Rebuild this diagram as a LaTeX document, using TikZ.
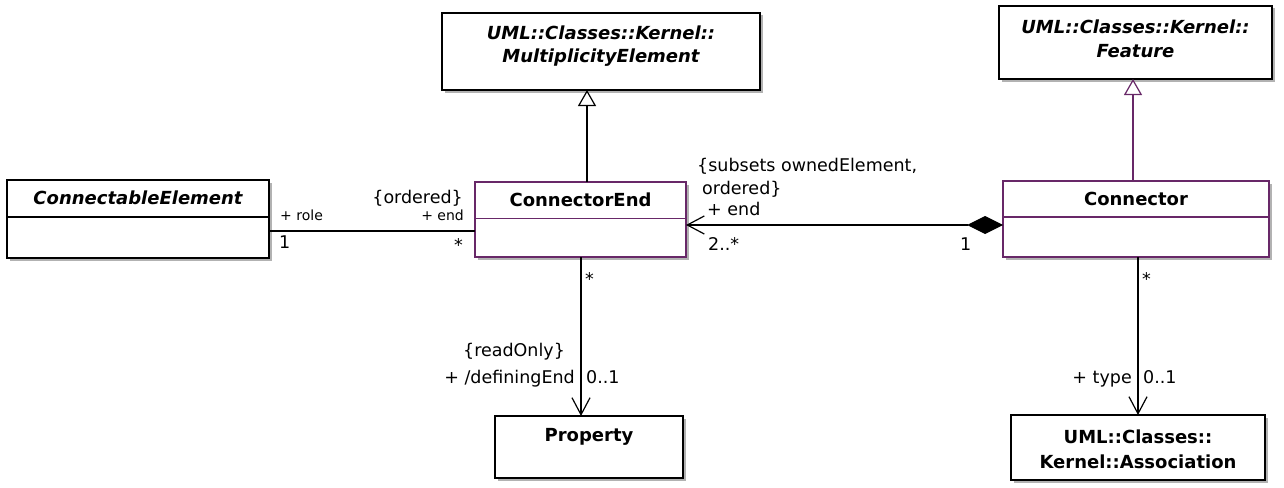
\documentclass[tikz,border=0pt]{standalone}
\usepackage{fontspec}
\setmainfont{DejaVu Sans}
\usetikzlibrary{arrows.meta}
\definecolor{umlpurple}{RGB}{104,40,104}
\begin{document}
\begin{tikzpicture}[x=1pt,y=-1pt,
  cls/.style={draw, line width=1.2pt, fill=white, inner sep=0pt, outer sep=0pt,
    preaction={fill=black!30, transform canvas={shift={(2.5pt,-2.5pt)}}}},
  pcls/.style={cls, draw=umlpurple},
  title/.style={font=\fontsize{18}{22}\selectfont\bfseries, inner sep=0pt, anchor=base},
  ititle/.style={title, font=\fontsize{18}{22}\selectfont\bfseries\itshape},
  lbl/.style={font=\fontsize{17.5}{21}\selectfont, inner sep=0pt},
  small/.style={font=\fontsize{14}{17}\selectfont, inner sep=0pt},
  conline/.style={line width=1.2pt},
  gen/.style={conline, -{Triangle[open, length=16pt, width=18pt, fill=white]}},
  nav/.style={conline, -{Straight Barb[length=17pt, width=18pt]}},
  comp/.style={conline, {Diamond[length=36pt, width=18pt]}-{Straight Barb[length=17pt, width=18pt]}}
]
\useasboundingbox (0,0) rectangle (1284,487);

% classes
\node[cls, anchor=north west, minimum width=262pt, minimum height=78pt] (ce) at (7,180) {};
\node[pcls, anchor=north west, minimum width=211pt, minimum height=75pt] (cend) at (475,182) {};
\node[pcls, anchor=north west, minimum width=266pt, minimum height=76pt] (conn) at (1003,181) {};
\node[cls, anchor=north west, minimum width=318pt, minimum height=77pt] (mult) at (442,13) {};
\node[cls, anchor=north west, minimum width=273pt, minimum height=73pt] (feat) at (999,6) {};
\node[cls, anchor=north west, minimum width=188pt, minimum height=62pt] (prop) at (495,416) {};
\node[cls, anchor=north west, minimum width=254pt, minimum height=65pt] (assoc) at (1011,415) {};

% compartments
\draw[conline] (ce.west |- 0,217) -- (ce.east |- 0,217);
\draw[conline, umlpurple] (cend.west |- 0,218.5) -- (cend.east |- 0,218.5);
\draw[conline, umlpurple] (conn.west |- 0,217) -- (conn.east |- 0,217);

% titles
\node[ititle] (tce) at (138,204.5) {ConnectableElement};
\node[title] (tcend) at (580.5,206.5) {ConnectorEnd};
\node[title] (tconn) at (1136,205) {Connector};
\node[ititle] (tmult1) at (601,40) {UML::Classes::Kernel::};
\node[ititle] (tmult2) at (601,63) {MultiplicityElement};
\node[ititle] (tfeat1) at (1135.5,34) {UML::Classes::Kernel::};
\node[ititle] (tfeat2) at (1135.5,58) {Feature};
\node[title] (tprop) at (589,441) {Property};
\node[title] (tassoc1) at (1138,443) {UML::Classes::};
\node[title] (tassoc2) at (1138,468) {Kernel::Association};

% connectors
\draw[conline] (ce.east |- 0,231) -- (cend.west |- 0,231);
\draw[gen] (cend.north -| 587,0) -- (mult.south -| 587,0);
\draw[gen, umlpurple] (conn.north -| 1133,0) -- (feat.south -| 1133,0);
\draw[comp] (conn.west |- 0,225) -- (cend.east |- 0,225);
\draw[nav] (cend.south -| 581,0) -- (prop.north -| 581,0);
\draw[nav] (conn.south -| 1138,0) -- (assoc.north -| 1138,0);

% labels: ConnectableElement -- ConnectorEnd
\node[small, anchor=base west] (lrole) at (280,220) {+ role};
\node[lbl, anchor=base west] (lrole1) at (279,248) {1};
\node[lbl, anchor=base east] (lord) at (463,203) {\{ordered\}};
\node[small, anchor=base east] (lend) at (464,220) {+ end};
\node[lbl, anchor=base east] (lendm) at (463,251) {*};

% labels: Connector -- ConnectorEnd
\node[lbl, anchor=base west] (lsub1) at (697,171) {\{subsets ownedElement,};
\node[lbl, anchor=base west] (lsub2) at (702,194) {ordered\}};
\node[lbl, anchor=base west] (lend2) at (707,215) {+ end};
\node[lbl, anchor=base west] (lend2m) at (708,250) {2..*};
\node[lbl, anchor=base west] (lone) at (960,250) {1};

% labels: ConnectorEnd -- Property
\node[lbl, anchor=base west] (ldm) at (585,285) {*};
\node[lbl, anchor=base] (lro) at (514,356) {\{readOnly\}};
\node[lbl, anchor=base east] (ldef) at (575,383) {+ /definingEnd};
\node[lbl, anchor=base west] (ldefm) at (586,383) {0..1};

% labels: Connector -- Association
\node[lbl, anchor=base west] (ltm) at (1142,285) {*};
\node[lbl, anchor=base east] (ltype) at (1132,383) {+ type};
\node[lbl, anchor=base west] (ltypem) at (1143,383) {0..1};
\end{tikzpicture}
\end{document}
